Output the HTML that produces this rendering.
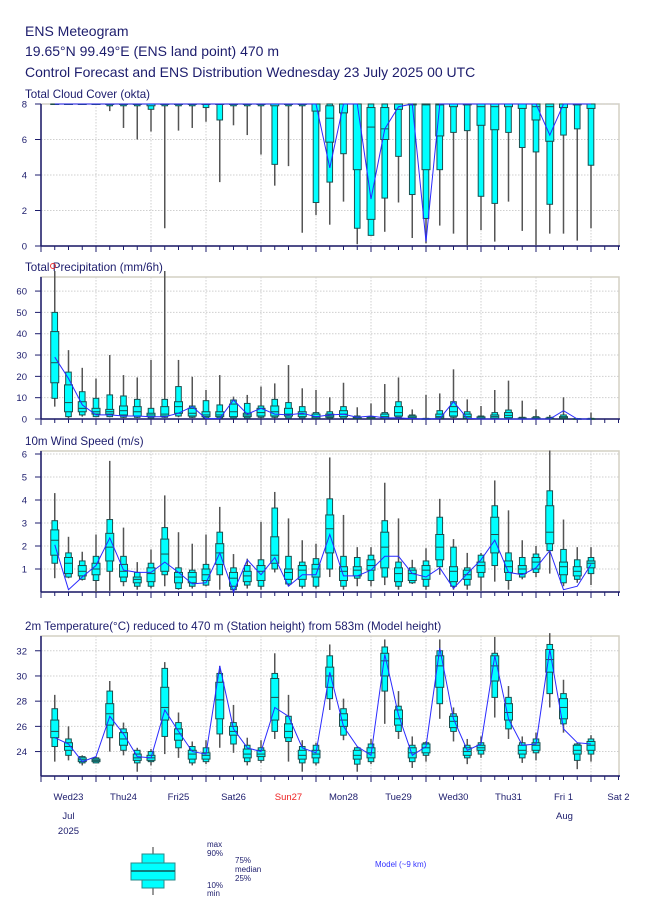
<!DOCTYPE html>
<html><head><meta charset="utf-8"><style>
html,body{margin:0;padding:0;background:#fff;}
svg{display:block;font-family:"Liberation Sans",sans-serif;}
</style></head><body>
<svg id="chart" width="650" height="916" viewBox="0 0 650 916">
<text x="25" y="36" font-size="14" fill="#1c1c6c">ENS Meteogram</text>
<text x="25" y="56" font-size="14" fill="#1c1c6c">19.65°N 99.49°E (ENS land point) 470 m</text>
<text x="25" y="77" font-size="14" fill="#1c1c6c">Control Forecast and ENS Distribution Wednesday 23 July 2025 00 UTC</text>
<g id="panels"></g>
<g>
 <line x1="153" y1="847" x2="153" y2="895" stroke="#777" stroke-width="1.5"/>
 <rect x="142" y="854" width="22" height="34" fill="#00ffff" stroke="#2a8a8a"/>
 <rect x="131" y="863" width="44" height="17" fill="#00ffff" stroke="#2a8a8a"/>
 <line x1="131" y1="871" x2="175" y2="871" stroke="#115555" stroke-width="1.5"/>
 <g font-size="8" fill="#1c1c6c">
  <text x="207" y="847">max</text><text x="207" y="856">90%</text>
  <text x="235" y="863">75%</text><text x="235" y="872">median</text><text x="235" y="881">25%</text>
  <text x="207" y="888">10%</text><text x="207" y="896">min</text>
 </g>
 <text x="375" y="867" font-size="8" fill="#3333ff">Model (~9 km)</text>
</g>
</svg>
<script>
const dayLabels=["Wed23","Thu24","Fri25","Sat26","Sun27","Mon28","Tue29","Wed30","Thu31","Fri 1","Sat 2"];
const cloudMin=[8,8,8,8,7.6,6.65,6.0,6.45,1.0,6.5,6.65,7.0,3.6,6.8,6.25,5.15,3.4,4.5,0.75,1.75,1.2,2.5,0.1,0.6,0.8,2.45,0.45,0.15,1.15,0.7,0.05,0.9,0.25,2.5,0.85,0.05,0.7,0.7,0.3,1.0];
const cloudP10=[8,8,8,8,7.9,7.9,7.9,7.7,7.9,7.9,7.9,7.8,7.1,7.9,7.9,7.9,4.6,7.9,7.9,2.45,3.6,5.2,1.0,0.6,2.7,5.05,2.9,1.55,4.3,6.4,6.5,2.8,2.4,6.4,5.55,5.3,2.35,6.25,6.6,4.55];
const cloudP25=[8,8,8,8,8,8,8,7.9,8,8,8,8,8,8,8,8,7.9,8,8,7.6,5.85,7.5,4.3,1.5,6.0,7.7,7.95,4.3,6.2,7.85,7.95,6.8,6.55,7.85,7.75,7.1,5.9,7.8,7.95,7.75];
const cloudMed=[8,8,8,8,8,8,8,8,8,8,8,8,8,8,8,8,8,8,8,8,7.2,8,8,6.7,6.6,8,8,7.95,7.95,8,8,7.85,7.85,8,8,7.85,7.85,8,8,8];
const cloudP75=[8,8,8,8,8,8,8,8,8,8,8,8,8,8,8,8,8,8,8,8,7.9,8,8,7.8,7.8,8,8,8,8,8,8,8,8,8,8,8,8,8,8,8];
const cloudP90=cloudP75.map(()=>8);
const cloudMax=cloudP75.map(()=>8);
const cloudModel=[8,8,8,8,8,8,8,8,8,8,8,8,8,8,8,8,8,8,8,8,4.4,8,8,2.65,6.6,7.85,8,0.25,8,8,8,8,8,8,8,8,6.25,8,8,8];

const precMin=[5.8,0.3,1.1,0.8,0.8,0.5,0.5,0.2,0.5,0.8,0.5,0.2,0.2,0.2,0.2,0.2,0.2,0.2,0.2,0,0.1,0.1,0,0,0,0.1,0,0,0,0.1,0,0,0,0,0,0,0,0,0,0];
const precP10=[9.7,1.1,1.9,1.1,1.1,0.8,0.8,0.5,0.8,1.4,0.8,0.5,0.5,0.5,0.5,0.8,0.8,0.5,0.5,0.2,0.4,0.4,0.1,0.1,0.2,0.8,0.1,0,0.2,0.8,0.1,0,0.1,0.2,0,0,0,0.1,0,0];
const precP25=[17,3.4,3.4,2.3,2.3,1.9,1.4,1.1,1.4,2.7,1.4,1.1,1.1,1.1,1.1,1.4,1.4,1.4,1.1,0.5,0.8,1.1,0.2,0.2,0.5,1.4,0.3,0,0.5,1.4,0.4,0.1,0.4,0.6,0.1,0.1,0,0.4,0,0];
const precMed=[26.4,7.7,5,3.4,3.4,3.9,3.4,1.9,2.3,5.8,2.7,1.9,1.9,3.4,1.9,3,3.4,2.3,2.3,1.1,1.4,2.3,0.4,0.4,1.1,3,0.8,0,1.1,3.4,1.1,0.4,1.1,1.7,0.2,0.2,0.1,0.6,0,0];
const precP75=[41,16,8.1,5,4.5,6.1,5.8,2.7,5.8,8.1,5,3.4,3.4,7,2.7,5,6.1,5,3.4,2.3,2.3,3.9,0.8,0.8,2.3,5.8,1.4,0.1,2.3,5.8,2.3,1,1.9,3,0.5,0.6,0.4,1.1,0.1,0.1];
const precP90=[50,22,12.8,9.7,11.3,10.8,9.2,5,9.2,15.2,6.1,8.6,6.6,8.9,7.3,6.1,9.2,7.7,5.8,3,3.4,5.8,1.4,1.1,3,8.1,1.9,0.3,3.9,8.1,3.4,1.4,3,4.2,0.8,1.1,0.8,1.9,0.2,0.3];
const precMax=[70,32.3,24,19,30,20.6,19.5,27.7,70,27.7,19.8,13.6,20.6,10.5,11.3,15.2,16.7,25.3,14.4,13.6,10.2,17,5.5,7.3,16.4,19.5,4.5,11.3,12,23.3,9.2,6.1,13.6,18,8.6,4.5,1.9,10.2,0.5,3];
const precModel=[29,19,6.6,1.9,1.9,1.4,1.4,1.1,1.1,2.7,5.8,0.2,0.2,8.9,2.3,5,2.3,1.9,2.7,1.1,1.9,2.2,0.8,1.4,0.5,0.5,0.2,0,0.2,8.1,0.3,0,0,0,0,0,0,3.9,0,0];

const windMin=[0.6,0.6,0.5,0.0,0.05,0.25,0.1,0.15,0.25,0.1,0.15,0.25,0.1,0.0,0.15,0.1,0.85,0.25,0.15,0.15,0.65,0.1,0.25,0.25,0.3,0.1,0.35,0.1,0.75,0.1,0.1,0.05,0.45,0.1,0.55,0.65,0.8,0.25,0.4,0.3];
const windP10=[1.25,0.65,0.55,0.5,0.9,0.45,0.25,0.25,0.75,0.15,0.25,0.3,0.75,0.1,0.3,0.25,1.0,0.35,0.25,0.25,1.0,0.25,0.6,0.5,0.65,0.25,0.4,0.25,1.1,0.25,0.3,0.65,1.15,0.5,0.65,0.85,1.8,0.4,0.55,0.8];
const windP25=[1.6,0.8,0.7,0.75,1.35,0.65,0.4,0.45,0.9,0.4,0.4,0.5,1.2,0.25,0.45,0.5,1.25,0.55,0.55,0.65,1.7,0.5,0.7,0.95,1.05,0.45,0.5,0.55,1.4,0.45,0.55,0.85,1.7,0.85,0.8,1.0,2.1,0.75,0.7,1.05];
const windMed=[2.25,1.25,0.9,1.0,1.95,0.9,0.55,0.8,1.65,0.65,0.65,0.75,1.7,0.6,0.7,0.9,1.6,0.85,0.95,1.0,2.75,0.9,0.95,1.15,1.95,0.8,0.8,0.95,1.95,0.9,0.75,1.15,2.5,1.1,1.0,1.3,2.6,1.1,0.9,1.25];
const windP75=[2.7,1.5,1.15,1.25,2.55,1.2,0.65,1.05,2.3,0.85,0.85,1.0,2.1,0.85,0.9,1.15,2.4,1.0,1.15,1.2,3.35,1.1,1.1,1.4,2.6,1.05,0.95,1.15,2.5,1.1,0.95,1.3,3.25,1.35,1.15,1.5,3.75,1.3,1.1,1.35];
const windP90=[3.1,1.7,1.35,1.55,3.15,1.55,0.85,1.25,2.8,1.05,0.95,1.2,2.6,1.05,1.15,1.4,3.65,1.55,1.3,1.45,4.05,1.55,1.5,1.6,3.1,1.3,1.05,1.35,3.25,1.95,1.05,1.6,3.75,1.7,1.5,1.65,4.4,1.85,1.4,1.5];
const windMax=[4.3,2.4,1.75,2.5,5.7,2.8,1.3,1.85,4.2,2.6,2.1,2.5,3.7,1.65,1.45,3.05,4.35,3.2,2.25,2.1,5.85,3.35,1.95,1.95,4.75,3.2,1.4,1.9,4.05,2.3,1.7,1.7,4.85,3.55,2.25,2.0,6.15,3.15,1.95,1.95];
const windModel=[2.05,0.1,0.65,1.15,2.35,0.95,0.85,0.85,1.3,0.85,0.35,0.4,1.7,0.0,1.4,0.75,1.5,0.25,0.75,0.75,2.5,0.7,0.7,0.95,1.55,1.55,0.8,0.65,1.05,0.15,0.8,1.4,2.25,0.85,0.75,1.05,1.8,0.1,0.25,1.2];

const tempMin=[23.2,23.3,22.9,23.1,24.0,23.7,22.4,22.9,23.8,23.5,22.9,23.0,24.3,23.9,22.9,23.1,25.0,23.2,22.4,22.9,27.3,24.9,22.4,23.0,26.2,25.0,22.7,23.2,26.6,24.8,23.0,23.5,26.7,25.0,23.1,23.3,27.5,25.5,22.6,23.2];
const tempP10=[24.4,23.7,23.1,23.1,25.1,24.1,23.1,23.2,25.2,24.3,23.1,23.2,25.4,24.6,23.2,23.3,25.6,24.8,23.1,23.1,28.2,25.3,23.0,23.2,28.8,25.6,23.2,23.7,27.8,25.6,23.5,23.8,28.3,25.8,23.5,23.9,28.6,26.2,23.3,23.8];
const tempP25=[25.1,24.1,23.2,23.2,26.1,24.5,23.3,23.3,26.5,24.9,23.4,23.4,26.6,25.3,23.5,23.6,26.5,25.1,23.4,23.5,29.1,26.0,23.4,23.5,30.0,26.1,23.5,23.9,29.1,25.9,23.7,24.1,29.6,26.5,23.8,24.1,30.3,26.6,23.8,24.1];
const tempMed=[25.6,24.4,23.35,23.3,27.0,25.0,23.5,23.5,27.5,25.4,23.8,23.7,28.1,25.6,23.8,23.8,28.3,25.6,23.7,23.8,30.0,26.5,23.7,23.9,31.2,26.6,23.9,24.3,30.8,26.4,24.0,24.3,30.8,27.1,24.1,24.5,31.3,27.5,24.1,24.5];
const tempP75=[26.5,24.7,23.5,23.4,27.8,25.5,23.8,23.7,29.1,25.8,24.1,23.9,29.5,26.0,24.2,24.1,29.8,26.2,24.1,24.1,30.7,27.0,24.1,24.3,31.8,27.3,24.3,24.6,31.6,26.8,24.3,24.5,31.6,27.8,24.5,24.7,32.1,28.2,24.5,24.8];
const tempP90=[27.4,25.0,23.6,23.5,28.8,25.8,24.1,24.0,30.6,26.3,24.4,24.3,30.2,26.3,24.5,24.3,30.2,26.8,24.4,24.5,31.6,27.4,24.3,24.6,32.3,27.6,24.5,24.7,32.0,27.0,24.5,24.7,31.8,28.3,24.7,25.0,32.5,28.6,24.6,25.0];
const tempMax=[28.5,26.0,23.7,23.6,29.6,26.3,24.3,24.2,31.1,27.1,24.8,24.9,30.8,27.7,25.1,24.9,31.8,28.5,24.9,24.7,32.5,28.2,24.4,25.0,32.9,28.8,25.2,24.8,32.9,27.5,25.0,25.2,33.1,29.2,25.2,25.5,33.4,29.7,24.7,25.3];
const tempModel=[25.1,24.6,23.2,23.6,26.8,25.4,23.6,23.5,27.3,25.6,24.0,23.8,30.8,25.8,24.3,24.0,27.5,26.8,24.3,23.9,30.3,26.0,24.4,23.7,31.7,26.9,23.7,24.4,32.2,26.6,24.1,24.6,31.6,26.6,24.5,24.6,32.1,25.8,24.7,24.6];

const cloudTicks=[0,2,4,6,8];
const precTicks=[0,10,20,30,40,50,60];
const windTicks=[1,2,3,4,5,6];
const tempTicks=[24,26,28,30,32];

const NS="http://www.w3.org/2000/svg";
const root=document.getElementById('panels');
const X0=41, STEP=13.75, XR=619;
function xOf(i){return X0+STEP*(i+1);}
function mk(tag,attrs,parent){const e=document.createElementNS(NS,tag);for(const k in attrs)e.setAttribute(k,attrs[k]);(parent||root).appendChild(e);return e;}

function panel(name,title,top,bottom,vmin,vmax,ticks,mins,p10,p25,med,p75,p90,maxs,model){
  const g=mk('g',{});
  
  
  const y=v=>bottom-(v-vmin)/(vmax-vmin)*(bottom-top);
  const t=mk('text',{x:25,y:top-6,'font-size':11.6,fill:'#1c1c6c'},g);
  t.textContent=title;
  
  
  mk('rect',{x:X0,y:top,width:XR-X0,height:bottom-top,fill:'#fff',stroke:'#d4d0c4','stroke-width':1.5},g);
  ticks.forEach(v=>{
    const yy=y(v);
    mk('line',{x1:X0,x2:XR,y1:yy,y2:yy,stroke:'#cfcfcf','stroke-dasharray':'1.5,1.5','stroke-width':1},g);
    mk('line',{x1:X0-6,x2:X0,y1:yy,y2:yy,stroke:'#1c1c6c','stroke-width':1},g);
    const tl=mk('text',{x:27,y:yy+3.5,'font-size':9.5,fill:'#1c1c6c','text-anchor':'end'},g);
    tl.textContent=v;
    
    
  });
  for(let d=1;d<=10;d++){
    const xx=X0+55*d;
    mk('line',{x1:xx,x2:xx,y1:top,y2:bottom,stroke:'#cfcfcf','stroke-dasharray':'1.5,1.5'},g);
  }
  mk('line',{x1:X0,x2:X0,y1:top,y2:bottom,stroke:'#1c1c6c','stroke-width':1.5},g);
  mk('line',{x1:X0,x2:XR+1,y1:bottom,y2:bottom,stroke:'#1c1c6c','stroke-width':1.5},g);
  for(let k=0;k<=42;k++){
    const xx=X0+STEP*k;
    mk('line',{x1:xx,x2:xx,y1:bottom,y2:bottom+(k%4===0?6:4),stroke:'#1c1c6c','stroke-width':1},g);
  }
  const clipTop=top-6;
  for(let i=0;i<mins.length;i++){
    const cx=xOf(i);
    const b=mk('g',{},g);
    
    
    mk('line',{x1:cx,x2:cx,y1:Math.max(clipTop,y(maxs[i])),y2:y(mins[i]),stroke:'#555','stroke-width':1.5},b);
    const a=Math.max(clipTop,y(p90[i])), c=y(p10[i]);
    mk('rect',{x:cx-2.8,y:a,width:5.6,height:Math.max(0.5,c-a),fill:'#00ffff',stroke:'#1d4f4f','stroke-width':1},b);
    const a2=Math.max(clipTop,y(p75[i])), c2=y(p25[i]);
    mk('rect',{x:cx-4,y:a2,width:8,height:Math.max(0.5,c2-a2),fill:'#00ffff',stroke:'#1d4f4f','stroke-width':1},b);
    mk('line',{x1:cx-4,x2:cx+4,y1:y(med[i]),y2:y(med[i]),stroke:'#1d4f4f','stroke-width':1},b);
  }
  const pts=model.map((v,i)=>xOf(i).toFixed(1)+','+y(v).toFixed(1)).join(' ');
  const pl=mk('polyline',{points:pts,fill:'none',stroke:'#2a2aff','stroke-width':1},g);
  
  
}

panel('cloud','Total Cloud Cover (okta)',104,246,0,8,cloudTicks,cloudMin,cloudP10,cloudP25,cloudMed,cloudP75,cloudP90,cloudMax,cloudModel);
panel('precip','Total Precipitation (mm/6h)',277,419,0,66.6,precTicks,precMin,precP10,precP25,precMed,precP75,precP90,precMax,precModel);
panel('wind','10m Wind Speed (m/s)',451,592,0,6.13,windTicks,windMin,windP10,windP25,windMed,windP75,windP90,windMax,windModel);
panel('temp','2m Temperature(°C) reduced to 470 m (Station height) from 583m (Model height)',636,776,22.06,32.0+(651-636)/12.8,tempTicks,tempMin,tempP10,tempP25,tempMed,tempP75,tempP90,tempMax,tempModel);

const rm=mk('circle',{cx:53,cy:266,r:2.5,fill:'none',stroke:'#e33','stroke-width':1});



dayLabels.forEach((lab,d)=>{
  const tx=mk('text',{x:X0+55*d+27.5,y:800,'font-size':9.5,'text-anchor':'middle',fill:lab==='Sun27'?'#ee2222':'#1c1c6c'});
  tx.textContent=lab;
  
  
});
[['Jul',68.5,819],['2025',68.5,834],['Aug',564.5,819]].forEach(a=>{
  const tx=mk('text',{x:a[1],y:a[2],'font-size':9.5,'text-anchor':'middle',fill:'#1c1c6c'});
  tx.textContent=a[0];
  
  
});
</script>
</body></html>
